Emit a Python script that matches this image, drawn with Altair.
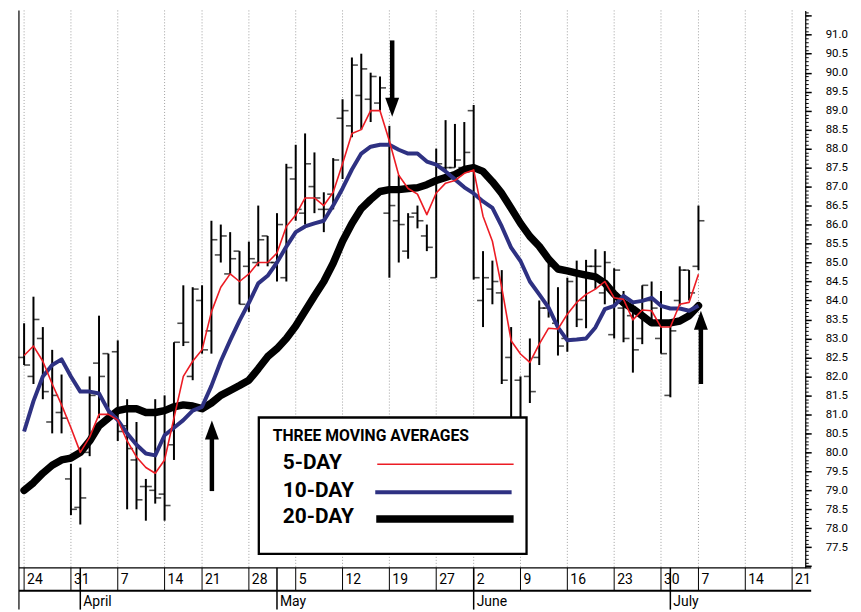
import altair as alt
import pandas as pd

# ---------------- data (trading-day index 0 = Mon 24 March) ----------------
bar_idx = list(range(73))
high = [83.4, 84.1, 83.3, 82.7, 82.05, 79.7, 79.6, 82.0, 83.6, 82.6,
        82.95, 81.4, 80.8, 79.3, 81.4, 81.5, 82.9, 84.4, 84.35, 84.4,
        86.1, 86.0, 85.8, 85.3, 85.55, 86.5, 85.7, 86.3, 87.6, 88.1,
        88.4, 87.9, 86.85, 87.75, 89.3, 90.4, 90.5, 90.0, 89.9, 88.6,
        87.3, 86.3, 86.5, 86.0, 88.0, 88.75, 88.65, 88.7, 89.15, 85.3,
        85.05, 84.8, 83.3, 82.0, 83.0, 84.0, 85.05, 84.35, 84.6, 85.05,
        85.07, 85.35, 85.3, 84.85, 84.25, 83.9, 84.4, 84.5, 84.25, 83.5,
        84.9, 84.8, 86.5]
low = [82.3, 81.8, 81.4, 80.5, 80.5, 78.35, 78.1, 79.9, 80.9, 80.8,
       80.3, 78.5, 78.5, 78.2, 78.65, 78.2, 79.8, 82.8, 81.9, 82.6,
       82.6, 85.0, 84.7, 83.9, 83.7, 84.9, 84.9, 84.5, 84.5, 86.1,
       86.0, 86.3, 85.8, 86.4, 87.2, 88.3, 88.5, 88.7, 89.0, 84.6,
       85.0, 85.1, 85.9, 85.3, 84.6, 87.4, 87.5, 87.4, 84.55, 83.3,
       83.9, 81.8, 80.5, 80.6, 81.3, 82.3, 83.55, 82.55, 82.65, 83.3,
       83.27, 84.3, 83.9, 83.0, 82.9, 82.1, 82.85, 83.4, 82.6, 81.45,
       83.86, 84.0, 84.8]
open_ = [82.5, 82.0, 83.0, 80.8, 81.05, 79.3, 78.55, 80.0, 82.35, 82.6,
         82.65, 80.7, 79.8, 79.1, 79.0, 78.9, 80.2, 83.4, 82.0, 84.0,
         83.2, 85.2, 84.7, 85.3, 84.9, 85.0, 85.7, 85.0, 84.6, 87.2,
         86.3, 87.0, 86.4, 86.8, 88.8, 88.6, 89.4, 89.3, 89.2, 86.3,
         86.1, 85.3, 86.3, 85.7, 84.6, 87.5, 87.5, 87.5, 89.0, 84.0,
         84.3, 84.2, 82.5, 81.9, 82.0, 82.5, 83.8, 83.4, 83.0, 84.8,
         84.0, 84.9, 84.2, 83.1, 83.8, 83.6, 83.0, 84.0, 83.0, 81.5,
         84.0, 84.8, 84.9]
close = [82.3, 83.5, 81.6, 81.5, 80.9, 78.5, 78.8, 81.5, 82.0, 81.0,
         80.55, 80.1, 78.75, 79.1, 78.8, 78.6, 82.9, 82.9, 84.3, 82.7,
         85.6, 85.7, 85.1, 83.9, 85.1, 85.6, 85.0, 86.0, 87.5, 86.4,
         87.6, 86.7, 86.4, 87.7, 89.0, 90.2, 90.1, 89.9, 89.6, 86.5,
         86.0, 86.2, 86.1, 85.4, 87.6, 87.5, 87.7, 87.9, 84.6, 84.6,
         84.5, 81.9, 80.8, 80.9, 81.6, 83.8, 84.9, 82.8, 84.5, 83.5,
         84.9, 84.9, 85.0, 84.8, 83.0, 82.7, 84.4, 83.8, 82.6, 83.2,
         84.8, 84.2, 86.1]
ma5 = [82.55, 82.8, 82.4, 81.8, 81.25, 80.65, 80.0, 80.4, 81.0, 81.0,
       80.85, 80.3, 79.88, 79.6, 79.45, 79.8, 80.9, 82.0, 82.4, 82.7,
       83.7, 84.35, 84.7, 84.5, 84.7, 85.0, 85.0, 85.25, 85.95, 86.25,
       86.7, 86.7, 86.5, 86.85, 87.6, 88.4, 88.5, 89.0, 89.0, 88.2,
       87.3, 86.95, 86.8, 86.26, 86.83, 87.09, 87.16, 87.35, 87.44, 86.22,
       85.56, 84.34, 82.94, 82.59, 82.37, 82.85, 83.27, 83.25, 83.64, 83.95,
       84.16, 84.3, 84.5, 84.07, 84.03, 83.49, 83.75, 83.73, 83.3, 83.3,
       83.9, 83.95, 84.69]
ma10 = [80.55, 81.35, 82.0, 82.3, 82.45, 82.0, 81.6, 81.6, 81.55, 81.1,
        80.85, 80.5, 80.2, 79.97, 79.92, 80.45, 80.65, 80.85, 81.1, 81.2,
        81.75, 82.4, 82.95, 83.47, 83.94, 84.45, 84.65, 85.0, 85.42, 85.8,
        85.95, 86.03, 86.1, 86.5, 86.95, 87.45, 87.87, 88.05, 88.1, 88.1,
        87.97, 87.87, 87.87, 87.66, 87.58, 87.4, 87.19, 86.98, 86.82, 86.61,
        86.44, 85.95, 85.39, 85.04, 84.5, 84.16, 83.81, 83.29, 82.95, 82.97,
        83.0, 83.29, 83.77, 83.86, 84.12, 83.95, 83.99, 84.07, 83.86, 83.79,
        83.79, 83.73, 83.86]
ma20 = [79.0, 79.2, 79.45, 79.66, 79.8, 79.85, 80.0, 80.3, 80.7, 80.9,
        81.1, 81.15, 81.15, 81.05, 81.05, 81.1, 81.2, 81.25, 81.22, 81.15,
        81.3, 81.5, 81.63, 81.76, 81.9, 82.2, 82.52, 82.73, 83.0, 83.33,
        83.72, 84.12, 84.5, 84.98, 85.56, 86.03, 86.42, 86.66, 86.87, 86.92,
        86.92, 86.95, 86.97, 87.05, 87.16, 87.24, 87.32, 87.45, 87.5, 87.4,
        87.13, 86.82, 86.43, 86.03, 85.69, 85.43, 85.09, 84.83, 84.78, 84.72,
        84.67, 84.62, 84.46, 84.17, 83.94, 83.78, 83.6, 83.41, 83.41, 83.41,
        83.46, 83.6, 83.86]

week_idx = [0, 5, 10, 15, 19, 24, 29, 34, 39, 44, 48, 53, 58, 63, 68, 72, 77, 82]
week_lbl = ["24", "31", "7", "14", "21", "28", "5", "12", "19", "27", "2", "9",
            "16", "23", "30", "7", "14", "21"]
month_idx = [6, 27, 48, 69]
month_lbl = ["April", "May", "June", "July"]

arrow_idx = [20.05, 39.3, 72.26]
arrow_tail = [78.98, 90.85, 81.8]
arrow_tip = [80.84, 88.84, 83.73]

legend_names = ["5-DAY", "10-DAY", "20-DAY"]

# ---------------- layout ----------------
W, H = 790, 560
FONT = "Roboto, Liberation Sans, sans-serif"
RED, NAVY = "#ec1c24", "#2e3182"

xs = alt.Scale(domain=[-0.55, 83.4], nice=False, zero=False)
ys = alt.Scale(domain=[76.96, 91.64], nice=False, zero=False)

bars = pd.DataFrame({"i": bar_idx, "h": high, "l": low, "o": open_, "c": close})
ma = pd.DataFrame({"i": bar_idx, "m5": ma5, "m10": ma10, "m20": ma20})
weeks = pd.DataFrame({"i": week_idx, "lab": week_lbl})
months = pd.DataFrame({"i": month_idx, "lab": month_lbl})
arr = pd.DataFrame({"i": arrow_idx, "tail": arrow_tail, "tip": arrow_tip})
arr["dir"] = [1 if t > s else -1 for s, t in zip(arr["tail"], arr["tip"])]
arr["neck"] = arr["tip"] - arr["dir"] * 0.3
arr["rot"] = [0 if d > 0 else 180 for d in arr["dir"]]
one = pd.DataFrame({"a": [0]})

minor_vals = [round(77.0 + k * 0.1, 1) for k in range(147)]
major_vals = [round(77.0 + k * 0.5, 1) for k in range(30)]
y_minor = alt.Axis(orient="right", values=minor_vals, labels=False, domain=False,
                   grid=False, tickSize=3, tickColor="black", tickWidth=1, title=None)
y_major = alt.Axis(orient="right", values=major_vals,
                   labelExpr="(datum.value > 77.45 && datum.value < 91.05) ? format(datum.value, '.1f') : ''",
                   domain=True, domainColor="black", domainWidth=1.2, grid=False,
                   tickSize=6, tickColor="black", tickWidth=1.5, labelPadding=14,
                   labelFont=FONT, labelFontSize=11.5, labelColor="black",
                   labelOverlap=False, title=None)

X = alt.X("i:Q", scale=xs, axis=None)

# weekly dotted grid
grid = alt.Chart(weeks).mark_rule(color="#a0a0a0", strokeWidth=1,
                                  strokeDash=[1, 2]).encode(
    x=X, y=alt.value(0), y2=alt.value(H))

hl = alt.Chart(bars).mark_rule(color="black", strokeWidth=2).encode(
    x=X, y=alt.Y("l:Q", scale=ys, axis=y_minor), y2="h:Q")
op = alt.Chart(bars).mark_tick(color="black", orient="horizontal", size=6,
                               thickness=1.6, xOffset=-3).encode(
    x=X, y=alt.Y("o:Q", scale=ys, axis=y_major))
cl = alt.Chart(bars).mark_tick(color="black", orient="horizontal", size=6,
                               thickness=1.6, xOffset=3).encode(
    x=X, y=alt.Y("c:Q", scale=ys, axis=None))

l20 = alt.Chart(ma).mark_line(color="black", strokeWidth=7.5, strokeJoin="round",
                              strokeCap="round").encode(
    x=X, y=alt.Y("m20:Q", scale=ys, axis=None))
l10 = alt.Chart(ma).mark_line(color=NAVY, strokeWidth=4, strokeJoin="round").encode(
    x=X, y=alt.Y("m10:Q", scale=ys, axis=None))
l5 = alt.Chart(ma).mark_line(color=RED, strokeWidth=1.6, strokeJoin="round").encode(
    x=X, y=alt.Y("m5:Q", scale=ys, axis=None))

shaft = alt.Chart(arr).mark_rule(color="black", strokeWidth=4.5).encode(
    x=X, y=alt.Y("tail:Q", scale=ys, axis=None), y2="neck:Q")
head = alt.Chart(arr).mark_point(shape="M0,0L0.5,1.36L-0.5,1.36Z", filled=True,
                                 color="black", size=784, opacity=1,
                                 strokeWidth=0).encode(
    x=X, y=alt.Y("tip:Q", scale=ys, axis=None),
    angle=alt.Angle("rot:Q", scale=None))

# legend box (pixel positions inside the plot)
box = alt.Chart(one).mark_rect(fill="white", stroke="black", strokeWidth=2.3).encode(
    x=alt.value(241), x2=alt.value(510), y=alt.value(409), y2=alt.value(546))
ltitle = alt.Chart(one).mark_text(text="THREE MOVING AVERAGES", align="left",
                                  baseline="alphabetic", font=FONT, fontSize=15.8,
                                  fontWeight="bold", color="black").encode(
    x=alt.value(255), y=alt.value(433))
lab_y = [461, 489, 515]
ltexts = [alt.Chart(one).mark_text(text=t, align="left", baseline="alphabetic",
                                   font=FONT, fontSize=21, fontWeight="bold",
                                   color="black").encode(x=alt.value(265), y=alt.value(yy))
          for t, yy in zip(legend_names, lab_y)]
lline5 = alt.Chart(one).mark_rule(color=RED, strokeWidth=1.6).encode(
    x=alt.value(360), x2=alt.value(497), y=alt.value(456))
lline10 = alt.Chart(one).mark_rule(color=NAVY, strokeWidth=4).encode(
    x=alt.value(358), x2=alt.value(495), y=alt.value(484))
lline20 = alt.Chart(one).mark_rule(color="black", strokeWidth=7.5).encode(
    x=alt.value(359), x2=alt.value(497), y=alt.value(511))

# day row and month row below the plot
dline = alt.Chart(one).mark_rule(color="black", strokeWidth=1.2).encode(
    x=alt.value(0), x2=alt.value(W + 6), y=alt.value(H))
dsep = alt.Chart(weeks).mark_rule(color="black", strokeWidth=1).encode(
    x=X, y=alt.value(H), y2=alt.value(H + 23))
dtxt = alt.Chart(weeks).mark_text(align="left", baseline="top", dx=3, font=FONT,
                                  fontSize=14, color="black").encode(
    x=X, y=alt.value(H + 5), text="lab:N")
msep = alt.Chart(months).mark_rule(color="black", strokeWidth=1.5).encode(
    x=X, y=alt.value(H), y2=alt.value(H + 42))
mtxt = alt.Chart(months).mark_text(align="left", baseline="top", dx=3, font=FONT,
                                   fontSize=14, color="black").encode(
    x=X, y=alt.value(H + 27), text="lab:N")
hline = alt.Chart(one).mark_rule(color="black", strokeWidth=2).encode(
    x=alt.value(0), x2=alt.value(W + 6), y=alt.value(H + 23))
lborder = alt.Chart(one).mark_rule(color="black", strokeWidth=1.2).encode(
    x=alt.value(0), y=alt.value(0), y2=alt.value(H + 42))

chart = alt.layer(
    grid, hl, op, cl, l20, l10, l5, box, ltitle, *ltexts, lline5, lline10, lline20,
    shaft, head, dline, dsep, dtxt, msep, mtxt, hline, lborder
).resolve_axis(y="independent").properties(
    width=W, height=H, padding={"left": 10, "top": 0, "right": 5, "bottom": 0}
).configure_view(stroke=None)

chart.save("out.html", embed_options={"renderer": "svg", "actions": False})
